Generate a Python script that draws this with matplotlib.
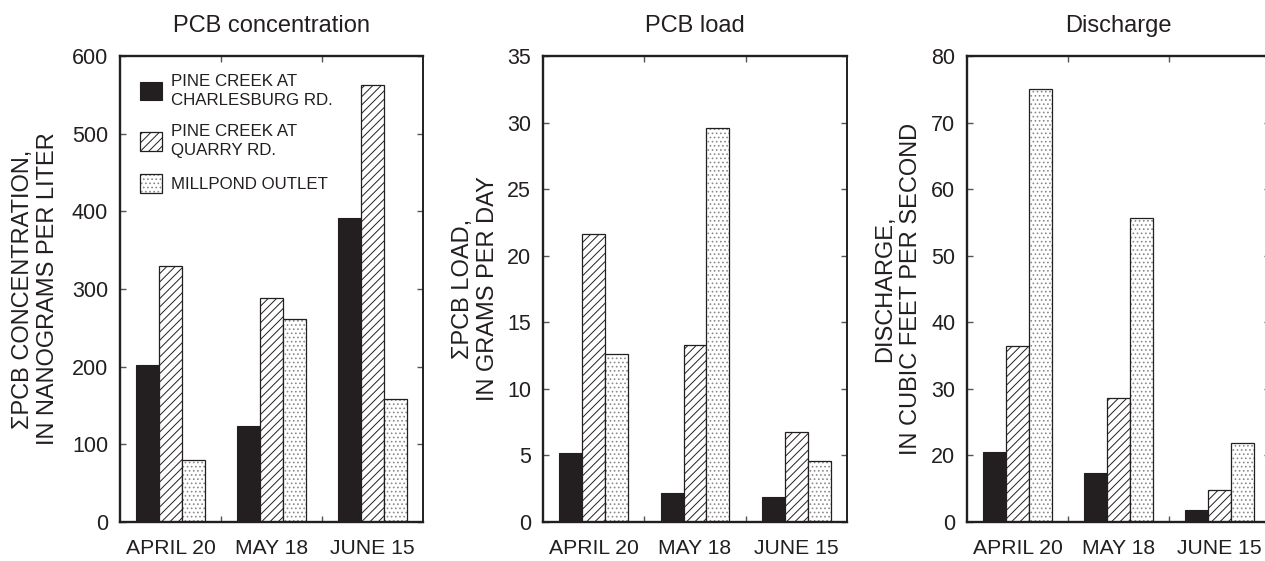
import numpy as np
import matplotlib
matplotlib.use('Agg')
import matplotlib.pyplot as plt
from matplotlib.legend_handler import HandlerTuple

# ---------------- data ----------------
dates = ['APRIL 20', 'MAY 18', 'JUNE 15']
series_labels = ['PINE CREEK AT\nCHARLESBURG RD.', 'PINE CREEK AT\nQUARRY RD.', 'MILLPOND OUTLET']

conc_charlesburg = [202, 123, 392]
conc_quarry = [330, 289, 563]
conc_millpond = [80, 262, 159]

load_charlesburg = [5.2, 2.2, 1.85]
load_quarry = [21.6, 13.3, 6.75]
load_millpond = [12.65, 29.6, 4.6]

q_charlesburg = [20.5, 14.6, 3.6]
q_quarry = [36.5, 28.7, 9.6]
q_millpond = [75.0, 55.7, 21.8]

titles = ['PCB concentration', 'PCB load', 'Discharge']
ylabels = ['\u03a3PCB CONCENTRATION,\nIN NANOGRAMS PER LITER',
           '\u03a3PCB LOAD,\nIN GRAMS PER DAY',
           'DISCHARGE,\nIN CUBIC FEET PER SECOND']
yticks_conc = [0, 100, 200, 300, 400, 500, 600]
yticks_load = [0, 5, 10, 15, 20, 25, 30, 35]
yticks_q = [0, 20, 30, 40, 50, 60, 70, 80]

# ---------------- style ----------------
plt.rcParams['font.family'] = ['Liberation Sans', 'DejaVu Sans']
plt.rcParams['hatch.linewidth'] = 0.7
INK = '#231f20'
DOTC = '#8a8a8a'
PX = 72 / 100.0  # points per pixel

fig = plt.figure(figsize=(12.65, 5.61), dpi=100)
W, H = 1265.0, 561.0
lefts = [120, 543, 967]
widths = [303, 304, 303]
top_px, bot_px = 56, 522
axes = [fig.add_axes([l / W, (H - bot_px) / H, w / W, (bot_px - top_px) / H])
        for l, w in zip(lefts, widths)]

datasets = [
    (conc_charlesburg, conc_quarry, conc_millpond, yticks_conc, (0, 600)),
    (load_charlesburg, load_quarry, load_millpond, yticks_load, (0, 35)),
    (q_charlesburg, q_quarry, q_millpond, yticks_q, (0, 80)),
]
label_x = [-0.200, -0.145, -0.1485]

def fwd(y):
    y = np.asarray(y, dtype=float)
    return np.where(y < 20, 10 + y / 2.0, y)

def inv(z):
    z = np.asarray(z, dtype=float)
    return np.where(z < 20, (z - 10) * 2.0, z)

x = np.arange(len(dates))
bw = 0.225
handles = None
for i, (ax, (s1, s2, s3, yt, yl)) in enumerate(zip(axes, datasets)):
    if i == 2:
        ax.set_yscale('function', functions=(fwd, inv))
    b1 = ax.bar(x - bw, s1, bw, color=INK, edgecolor=INK, linewidth=0.8, zorder=2)
    b2 = ax.bar(x, s2, bw, facecolor='white', edgecolor=INK, hatch='////', linewidth=0.9, zorder=2)
    b3a = ax.bar(x + bw, s3, bw, facecolor='white', edgecolor=DOTC, hatch='....', linewidth=0, zorder=2)
    b3b = ax.bar(x + bw, s3, bw, fill=False, edgecolor=INK, linewidth=0.9, zorder=3)
    if i == 0:
        handles = [b1[0], b2[0], (b3a[0], b3b[0])]

    ax.set_xlim(-0.5, 2.5)
    ax.set_ylim(*yl)
    ax.set_yticks(yt)
    ax.set_yticklabels([str(v) for v in yt])
    ax.yaxis.set_minor_locator(matplotlib.ticker.NullLocator())
    ax.set_xticks(x)
    ax.set_xticklabels(dates)
    ax.set_xticks([0.5, 1.5], minor=True)

    for sp in ax.spines.values():
        sp.set_linewidth(1.7)
        sp.set_color(INK)
    ax.spines['right'].set_linewidth(1.4)

    ax.tick_params(axis='x', which='major', length=0, pad=12.5, labelsize=15.2, labelcolor=INK)
    ax.tick_params(axis='x', which='minor', direction='in', top=True, bottom=True,
                   length=6 * PX, width=1.0, color='#555555')
    ax.tick_params(axis='y', which='major', direction='in', left=True, right=True,
                   length=6 * PX, width=1.0, color='#555555', pad=8.5,
                   labelsize=15.5, labelcolor=INK)

    ax.set_title(titles[i], fontsize=17, pad=17, color=INK)
    ax.set_ylabel(ylabels[i], fontsize=17, color=INK, linespacing=1.2)
    ax.yaxis.set_label_coords(label_x[i], 0.5)

axes[0].legend(handles, series_labels, loc='upper left', bbox_to_anchor=(0.066, 0.962),
               borderpad=0, borderaxespad=0, frameon=False, fontsize=12.2,
               handlelength=1.32, handleheight=1.32, handletextpad=0.5,
               labelspacing=0.95, labelcolor=INK,
               handler_map={tuple: HandlerTuple(ndivide=1, pad=0)})
for t in axes[0].get_legend().get_texts():
    t.set_linespacing(1.35)

fig.savefig('out.png', dpi=100)
